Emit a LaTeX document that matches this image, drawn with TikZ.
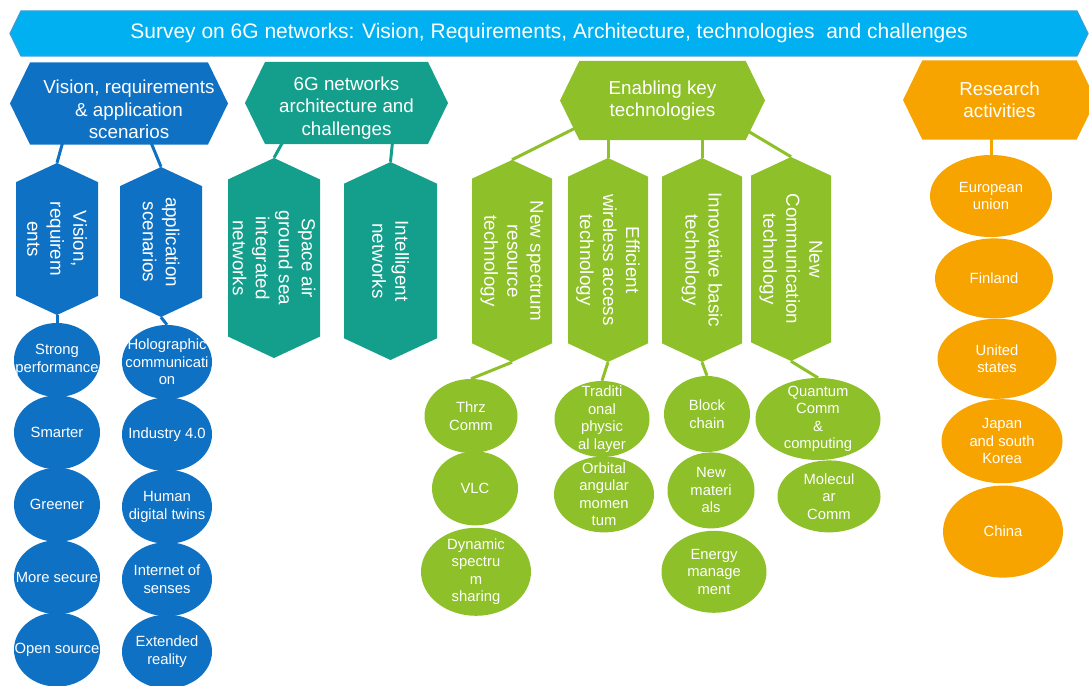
\documentclass[tikz,border=0pt]{standalone}
\usepackage{fontspec}
\setmainfont{Liberation Sans}
\usetikzlibrary{shapes.geometric, shapes.symbols, positioning}

\definecolor{skyblue}{HTML}{00B0F0}
\definecolor{skyline}{HTML}{3A9FD8}
\definecolor{visblue}{HTML}{0F71C4}
\definecolor{archteal}{HTML}{149E8C}
\definecolor{techgreen}{HTML}{8DC029}
\definecolor{resorange}{HTML}{F7A300}

\pgfdeclarelayer{links}
\pgfsetlayers{links,main}

\begin{document}
\begin{tikzpicture}[
    x=1pt, y=-1pt,
    banner/.style={signal, signal to=west and east, signal pointer angle=128, fill=skyblue, draw=skyline, line width=1.2pt, text=white, minimum width=1078pt, minimum height=45pt, inner sep=0pt, font=\fontsize{21}{25}\selectfont},
    header/.style={signal, signal to=west and east, signal pointer angle=128, text=white, align=center, inner sep=0pt, minimum height=82pt, font=\fontsize{18.8}{22.5}\selectfont},
    branch/.style={header, rotate=-90, signal pointer angle=130, font=\fontsize{18.8}{23}\selectfont},
    leaf/.style={ellipse, text=white, align=center, inner sep=-30pt, minimum width=86pt, minimum height=74pt, font=\fontsize{14.8}{17.5}\selectfont},
    link/.style={line width=3pt}
]
\useasboundingbox (0,0) rectangle (1089,685);

% Title bar
\node[banner] (title) at (549,33.5) {Survey on 6G networks: Vision, Requirements, Architecture, technologies\ \ and challenges};

% Topic headers (rules push the three-line texts a bit lower)
\node[header, fill=visblue, minimum width=218pt, inner xsep=-14pt] (vis) at (119,103.5) {\hspace*{20pt}\rule{0pt}{25.5pt}Vision, requirements\\\hspace*{20pt}\& application\\\hspace*{20pt}scenarios};
\node[header, fill=archteal, minimum width=203pt] (arch) at (346.5,103) {\rule{0pt}{23.5pt}6G networks\\architecture and\\challenges};
\node[header, fill=techgreen, minimum width=205pt, minimum height=79pt] (ekt) at (662.5,100.5) {Enabling key\\technologies};
\node[header, fill=resorange, minimum width=193pt, minimum height=79pt] (res) at (999.5,100) {Research\\activities};

% Vertical branches
\node[branch, fill=visblue, minimum width=152pt, minimum height=82pt] (vreq) at (57,239) {Vision,\\requirem\\ents};
\node[branch, fill=visblue, minimum width=150pt, minimum height=82pt] (vapp) at (161,242) {application\\scenarios};
\node[branch, fill=archteal, minimum width=200pt, minimum height=92pt] (sags) at (274,258) {Space air\\ground sea\\integrated\\networks};
\node[branch, fill=archteal, minimum width=198pt, minimum height=93pt] (intl) at (390.5,261) {Intelligent\\networks};
\node[branch, fill=techgreen, minimum width=202pt, minimum height=80pt] (spec) at (512,261) {New spectrum\\resource\\technology};
\node[branch, fill=techgreen, minimum width=204pt, minimum height=80pt] (wacc) at (608,260) {Efficient\\wireless access\\technology};
\node[branch, fill=techgreen, minimum width=204pt, minimum height=80pt] (basic) at (702,260) {Innovative basic\\technology};
\node[branch, fill=techgreen, minimum width=204pt, minimum height=80pt] (comm) at (791,259) {New\\Communication\\technology};

% Requirements and scenarios
\node[leaf, fill=visblue] (strong) at (57,360) {Strong\\performance};
\node[leaf, fill=visblue, below=-2pt of strong] (smart) {Smarter};
\node[leaf, fill=visblue, below=-2pt of smart] (green) {Greener};
\node[leaf, fill=visblue, below=-2pt of green] (secure) {More secure};
\node[leaf, fill=visblue, below=-2pt of secure] (open) {Open source};

\node[leaf, fill=visblue, minimum width=90pt] (holo) at (167,362) {Holographic\\communicati\\on};
\node[leaf, fill=visblue, minimum width=90pt, below=-2pt of holo] (ind) {Industry 4.0};
\node[leaf, fill=visblue, minimum width=90pt, below=-2pt of ind] (twin) {Human\\digital twins};
\node[leaf, fill=visblue, minimum width=90pt, below=-2pt of twin] (senses) {Internet of\\senses};
\node[leaf, fill=visblue, minimum width=90pt, below=-2pt of senses] (xr) {Extended\\reality};

% Key technologies
\node[leaf, fill=techgreen, minimum width=93pt] (thz) at (471,416) {Thrz\\Comm};
\node[leaf, fill=techgreen, below=-2pt of thz, xshift=4pt] (vlc) {VLC};
\node[leaf, fill=techgreen, minimum width=110pt, minimum height=88pt, below=2pt of vlc, xshift=1pt] (dss) {Dynamic\\spectru\\m\\sharing};

\node[leaf, fill=techgreen, minimum width=95pt, minimum height=76pt] (trad) at (602,419) {Traditi\\onal\\physic\\al layer};
\node[leaf, fill=techgreen, minimum width=100pt, minimum height=76pt, below=-1pt of trad, xshift=2pt] (oam) {Orbital\\angular\\momen\\tum};

\node[leaf, fill=techgreen, minimum height=76pt] (blk) at (707,414) {Block\\chain};
\node[leaf, fill=techgreen, minimum width=87pt, minimum height=76pt, below=0pt of blk, xshift=4pt] (nmat) {New\\materi\\als};
\node[leaf, fill=techgreen, minimum width=105pt, minimum height=82pt, below=2pt of nmat, xshift=3pt] (enm) {Energy\\manage\\ment};

\node[leaf, fill=techgreen, minimum width=125pt, minimum height=82pt] (qcc) at (818,419) {Quantum\\Comm\\\&\\computing};
\node[leaf, fill=techgreen, minimum width=103pt, minimum height=72pt, below=0pt of qcc, xshift=11pt] (mol) {Molecul\\ar\\Comm};

% Research activities
\node[leaf, fill=resorange, minimum width=122pt, minimum height=82pt] (eu) at (991,196) {European\\union};
\node[leaf, fill=resorange, minimum width=118pt, minimum height=80pt, below=1pt of eu, xshift=3pt] (fin) {Finland};
\node[leaf, fill=resorange, minimum width=119pt, minimum height=80pt, below=0pt of fin, xshift=3pt] (usa) {United\\states};
\node[leaf, fill=resorange, minimum width=121pt, minimum height=84pt, below=0pt of usa, xshift=5pt] (jpk) {Japan\\and south\\Korea};
\node[leaf, fill=resorange, minimum width=120pt, minimum height=92pt, below=2pt of jpk, xshift=1pt] (chn) {China};

% Connectors, kept behind the shapes
\begin{pgfonlayer}{links}
\draw[link, visblue] ([xshift=-55pt,yshift=7pt]vis.south) -- (vreq.west);
\draw[link, visblue] ([xshift=30pt,yshift=7pt]vis.south) -- (vapp.west);
\draw[link, visblue] (vreq.east) -- (strong.north);
\draw[link, visblue] (vapp.east) -- (holo.north);
\draw[link, archteal] ([xshift=-61pt,yshift=7pt]arch.south) -- (sags.west);
\draw[link, archteal] ([xshift=46.5pt,yshift=7pt]arch.south) -- (intl.west);
\draw[link, techgreen] ([xshift=-52pt,yshift=-10pt]ekt.center) -- (spec.west);
\draw[link, techgreen] ([xshift=-54.5pt]ekt.center) -- (wacc.west);
\draw[link, techgreen] ([xshift=39.5pt]ekt.center) -- (basic.west);
\draw[link, techgreen] ([xshift=51pt,yshift=-10pt]ekt.center) -- (comm.west);
\draw[link, techgreen] (spec.east) -- (thz.north);
\draw[link, techgreen] (wacc.east) -- (trad.north);
\draw[link, techgreen] (basic.east) -- (blk.north);
\draw[link, techgreen] (comm.east) -- (qcc.north);
\draw[link, resorange] (eu.north |- res.center) -- (eu.north);
\end{pgfonlayer}

\end{tikzpicture}
\end{document}
